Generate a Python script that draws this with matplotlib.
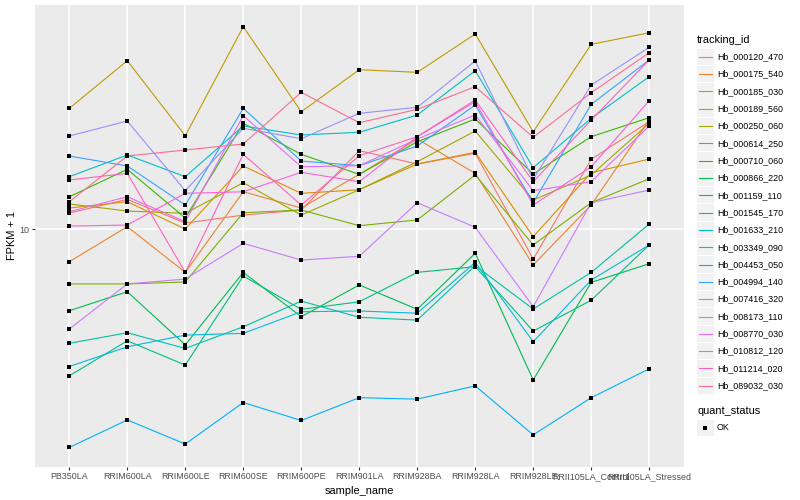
import matplotlib
matplotlib.use("Agg")
import matplotlib.pyplot as plt
import numpy as np
from matplotlib.patches import Rectangle
from matplotlib.lines import Line2D
from matplotlib.ticker import NullLocator

plt.rcParams['font.family'] = ['Liberation Sans', 'DejaVu Sans']

samples = ["PB350LA", "RRIM600LA", "RRIM600LE", "RRIM600SE", "RRIM600PE",
           "RRIM901LA", "RRIM928BA", "RRIM928LA", "RRIM928LE",
           "RRII105LA_Control", "RRII105LA_Stressed"]

tracking_ids = ["Hb_000120_470", "Hb_000175_540", "Hb_000185_030", "Hb_000189_560",
                "Hb_000250_060", "Hb_000614_250", "Hb_000710_060", "Hb_000866_220",
                "Hb_001159_110", "Hb_001545_170", "Hb_001633_210", "Hb_003349_090",
                "Hb_004453_050", "Hb_004994_140", "Hb_007416_320", "Hb_008173_110",
                "Hb_008770_030", "Hb_010812_120", "Hb_011214_020", "Hb_089032_030"]

quant_status = ["OK"]

# FPKM + 1 values per sample (same order as samples)
hb_000120_470 = [11.30, 12.56, 10.47, 11.13, 11.57, 18.24, 16.47, 17.88, 7.94, 17.08, 22.79]
hb_000175_540 = [7.78, 10.18, 7.17, 13.31, 11.75, 15.21, 19.95, 15.33, 7.59, 12.02, 23.08]
hb_000185_030 = [11.75, 12.33, 10.00, 16.22, 13.15, 13.52, 16.47, 18.02, 9.43, 15.40, 17.11]
hb_000189_560 = [25.25, 36.39, 20.46, 47.24, 24.60, 33.96, 33.29, 44.67, 21.10, 41.27, 45.11]
hb_000250_060 = [12.12, 11.48, 11.28, 14.27, 11.13, 13.52, 16.76, 21.22, 12.49, 15.14, 22.51]
hb_000614_250 = [6.56, 6.56, 6.66, 11.33, 11.57, 10.26, 10.72, 15.14, 8.85, 12.24, 14.71]
hb_000710_060 = [12.81, 15.81, 10.88, 22.51, 17.74, 15.21, 19.54, 23.26, 15.25, 20.31, 23.50]
hb_000866_220 = [5.34, 6.18, 4.11, 7.17, 5.10, 6.51, 5.40, 8.30, 3.14, 6.64, 7.66]
hb_001159_110 = [3.24, 4.24, 3.52, 6.97, 5.40, 5.72, 7.17, 7.49, 4.57, 5.79, 8.85]
hb_001545_170 = [4.16, 4.51, 4.00, 4.72, 5.75, 5.08, 4.97, 7.55, 5.41, 7.17, 10.39]
hb_001633_210 = [14.94, 17.65, 14.94, 22.05, 20.58, 21.01, 23.99, 33.70, 16.01, 23.39, 32.19]
hb_003349_090 = [3.48, 4.05, 4.43, 4.49, 5.30, 5.33, 5.24, 7.74, 4.21, 6.76, 8.85]
hb_004453_050 = [1.87, 2.31, 1.92, 2.64, 2.30, 2.74, 2.71, 3.00, 2.06, 2.74, 3.42]
hb_004994_140 = [17.51, 16.22, 12.02, 25.25, 16.85, 16.26, 18.91, 25.90, 12.24, 26.04, 36.59]
hb_007416_320 = [20.42, 22.91, 13.42, 21.66, 20.00, 24.30, 25.45, 36.31, 14.64, 30.20, 40.33]
hb_008173_110 = [4.64, 6.56, 6.81, 8.96, 7.88, 8.11, 12.24, 10.13, 5.51, 12.24, 13.49]
hb_008770_030 = [11.42, 12.81, 10.58, 23.86, 16.13, 16.26, 19.95, 23.99, 13.42, 14.38, 22.05]
hb_010812_120 = [10.23, 10.31, 13.15, 13.31, 15.45, 14.38, 20.31, 26.57, 12.02, 16.13, 26.77]
hb_011214_020 = [14.57, 15.33, 7.17, 17.74, 12.02, 17.55, 20.31, 26.92, 14.38, 23.08, 36.59]
hb_089032_030 = [12.33, 17.51, 18.34, 19.20, 28.56, 22.61, 25.06, 29.81, 20.22, 28.47, 38.70]

series = [hb_000120_470, hb_000175_540, hb_000185_030, hb_000189_560, hb_000250_060,
          hb_000614_250, hb_000710_060, hb_000866_220, hb_001159_110, hb_001545_170,
          hb_001633_210, hb_003349_090, hb_004453_050, hb_004994_140, hb_007416_320,
          hb_008173_110, hb_008770_030, hb_010812_120, hb_011214_020, hb_089032_030]

colors = ["#F8766D", "#EA8331", "#D89000", "#C09B00", "#A3A500", "#7CAE00", "#39B600",
          "#00BB4E", "#00BF7D", "#00C1A3", "#00BFC4", "#00BAE0", "#00B0F6", "#35A2FF",
          "#9590FF", "#C77CFF", "#E76BF3", "#FA62DB", "#FF62BC", "#FF6C91"]

W, H = 800, 500
fig = plt.figure(figsize=(W / 100, H / 100), dpi=100)
fig.patch.set_facecolor("white")

pl, pr, pt, pb = 34.5, 684.0, 5.0, 467.0
ax = fig.add_axes([pl / W, 1 - pb / H, (pr - pl) / W, (pb - pt) / H])
ax.set_facecolor("#EBEBEB")

x = np.arange(len(samples))
for vals, col in zip(series, colors):
    ax.plot(x, vals, color=col, lw=0.8, zorder=3, solid_capstyle='butt')
for vals in series:
    ax.plot(x, vals, ls='none', marker='s', ms=2.3, mew=0, color='black', zorder=4)

ax.set_yscale('log')
ax.set_ylim(1.6096, 55.81)
ax.set_xlim(-0.6, len(samples) - 0.4)
ax.set_yticks([10])
ax.set_yticklabels(["10"])
ax.yaxis.set_minor_locator(NullLocator())
ax.set_xticks(x)
ax.set_xticklabels(samples)
ax.grid(True, which='major', color='white', lw=1.1)
ax.set_axisbelow(True)
for s in ax.spines.values():
    s.set_visible(False)
ax.tick_params(axis='both', length=2.0, width=0.8, color='#333333',
               labelcolor='#4D4D4D', labelsize=6.4, pad=1.6)

fig.text(12 / W, 1 - 236 / H, "FPKM + 1", rotation=90, ha='center', va='center',
         fontsize=7.9, color='black')
fig.text((pl + pr) / 2 / W, 1 - 491 / H, "sample_name", ha='center', va='center',
         fontsize=7.9, color='black')

# legend: tracking_id
lx = 697.0
fig.text(lx / W, 1 - 40 / H, "tracking_id", ha='left', va='center', fontsize=7.9)
y0, dy = 56.7, 17.32
for i, (name, col) in enumerate(zip(tracking_ids, colors)):
    yc = y0 + i * dy
    fig.add_artist(Rectangle((lx / W, 1 - (yc + 8.2) / H), 16.5 / W, 16.4 / H,
                             transform=fig.transFigure, facecolor='#F2F2F2',
                             edgecolor='none'))
    fig.add_artist(Line2D([(lx + 1.5) / W, (lx + 15) / W], [1 - yc / H, 1 - yc / H],
                          transform=fig.transFigure, color=col, lw=0.8))
    fig.text((lx + 20) / W, 1 - yc / H, name, ha='left', va='center', fontsize=6.4)

# legend: quant_status
fig.text(lx / W, 1 - 411 / H, "quant_status", ha='left', va='center', fontsize=7.9)
for i, name in enumerate(quant_status):
    yc = 428.0 + i * dy
    fig.add_artist(Rectangle((lx / W, 1 - (yc + 8.2) / H), 16.5 / W, 16.4 / H,
                             transform=fig.transFigure, facecolor='#F2F2F2',
                             edgecolor='none'))
    fig.add_artist(Line2D([(lx + 8.2) / W], [1 - yc / H], transform=fig.transFigure,
                          ls='none', marker='s', ms=2.3, mew=0, color='black'))
    fig.text((lx + 20) / W, 1 - yc / H, name, ha='left', va='center', fontsize=6.4)

fig.savefig("out.png", dpi=100, facecolor="white")
